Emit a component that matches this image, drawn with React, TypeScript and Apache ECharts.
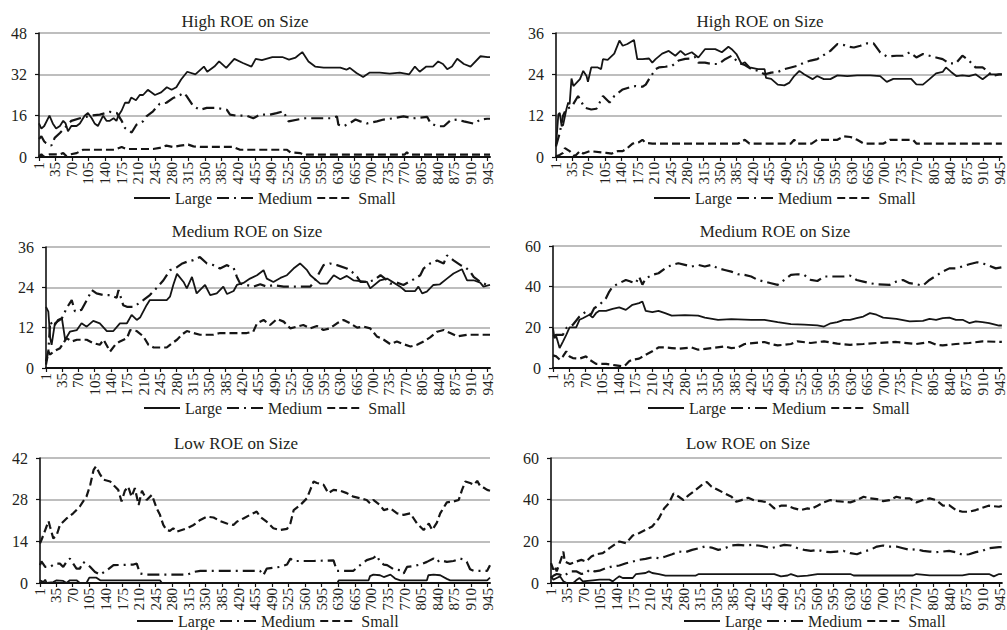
import React, { useEffect, useRef } from "react";
import * as echarts from "echarts";

type Pt = [number, number];

// ---------- tick labels / categories ----------
const xTickValues: number[] = [
  1, 35, 70, 105, 140, 175, 210, 245, 280, 315, 350, 385, 420, 455, 490, 525,
  560, 595, 630, 665, 700, 735, 770, 805, 840, 875, 910, 945,
];
const seriesNames: string[] = ["Large", "Medium", "Small"];
const panelTitles: string[] = [
  "High ROE on Size",
  "High ROE on Size",
  "Medium ROE on Size",
  "Medium ROE on Size",
  "Low ROE on Size",
  "Low ROE on Size",
];
const yMaxes: number[] = [48, 36, 36, 60, 42, 60];
const yIntervals: number[] = [16, 12, 12, 20, 14, 20];

// ---------- panel 1: High ROE (left) ----------
const highLeftLarge: Pt[] = [
  [1, 13], [6, 11], [12, 12], [23, 16], [30, 13], [37, 11], [45, 12], [52, 14], [57, 13], [62, 10],
  [69, 12], [80, 12], [87, 13], [97, 16], [104, 17], [112, 15], [118, 13], [125, 12], [136, 16],
  [143, 14], [150, 14], [158, 15], [164, 14], [168, 16], [175, 18], [182, 21], [190, 21], [195, 23],
  [205, 22], [213, 24], [220, 24], [230, 26], [245, 24], [258, 25], [270, 27], [280, 26], [290, 27],
  [300, 30], [313, 33], [330, 32], [348, 35], [355, 33], [370, 35], [380, 37], [395, 34.5], [412, 38],
  [430, 36.4], [448, 35], [457, 38], [470, 37.5], [492, 38.7], [513, 38.7], [527, 37.7], [541, 38.5],
  [555, 40.6], [568, 37], [582, 35], [600, 34.6], [635, 34.6], [648, 33.8], [655, 34.5], [669, 32.5],
  [683, 31], [697, 32.7], [718, 32.7], [739, 32.3], [760, 32.7], [780, 32], [792, 35], [802, 33],
  [816, 35], [830, 35], [841, 37], [851, 36], [860, 34], [870, 35], [881, 38], [895, 36], [909, 35],
  [930, 39], [945, 38.7], [950, 38.7],
];
const highLeftMedium: Pt[] = [
  [1, 7], [6, 8], [12, 6], [16, 5.4], [27, 4.4], [34, 7.4], [45, 9.3], [55, 11.2], [69, 14], [87, 15],
  [110, 16], [129, 16.4], [150, 17.5], [165, 17], [175, 14], [182, 11.2], [196, 9.5], [206, 12.5],
  [220, 13.8], [227, 15.7], [241, 17.7], [255, 20.6], [269, 21], [283, 22.8], [298, 24], [305, 24.8],
  [312, 23.5], [326, 19.6], [340, 18.3], [354, 19], [375, 19], [396, 18.3], [403, 16.4], [417, 16],
  [438, 16], [452, 15], [466, 16.4], [487, 16.4], [501, 17], [515, 17.7], [526, 13.8], [551, 14.7],
  [561, 15], [593, 15], [614, 15], [628, 15.7], [631, 12.5], [642, 11.9], [656, 13.2], [667, 14.5],
  [677, 13.8], [691, 13], [712, 13.8], [726, 14.5], [747, 15], [768, 15.7], [789, 15], [818, 15.5],
  [825, 13], [839, 11.9], [853, 11.9], [867, 14.2], [881, 14.5], [895, 13.8], [916, 12.9], [930, 14.5],
  [944, 14.8], [950, 14.8],
];
const highLeftSmall: Pt[] = [
  [1, 0.3], [6, 1], [12, 0], [23, 1], [45, 1], [52, 1.5], [59, 0.3], [66, 1], [80, 1.5], [94, 2.8],
  [160, 2.8], [175, 3.9], [185, 3.1], [241, 3.1], [255, 3.5], [269, 4.4], [283, 3.9], [298, 4.4],
  [315, 4.8], [326, 4.1], [340, 3.9], [410, 3.9], [424, 2.8], [523, 2.8], [530, 1.8], [551, 1.5],
  [558, 0.8], [565, 0.9], [770, 0.9], [775, 1.8], [780, 0.9], [950, 0.9],
];

// ---------- panel 2: High ROE (right) ----------
const highRightLarge: Pt[] = [
  [1, 3.1], [6, 12.4], [9, 12.8], [13, 9], [16, 9.2], [23, 13.8], [27, 15.8], [30, 15.3], [34, 22.8],
  [38, 20.6], [52, 22.6], [59, 25], [66, 23.5], [69, 21.8], [76, 26], [90, 26], [97, 25.5], [101, 28.4],
  [111, 28.2], [125, 30], [136, 33.8], [143, 32.3], [153, 32.8], [167, 34], [174, 28.4], [185, 28.4],
  [199, 28.6], [206, 27.4], [213, 28.4], [227, 30], [241, 30.8], [255, 29.4], [266, 30.8], [276, 29.6],
  [290, 30.4], [304, 28.9], [318, 31.3], [340, 31.3], [354, 30.4], [368, 32], [375, 31.3], [385, 29.9],
  [396, 27], [403, 27.5], [413, 26], [431, 25.5], [445, 25.5], [448, 23], [459, 22.7], [473, 21],
  [487, 20.8], [498, 21.6], [508, 23.5], [519, 25], [529, 24], [547, 22.6], [557, 23.5], [571, 22.6],
  [585, 22.6], [600, 23.7], [621, 23.5], [642, 23.7], [670, 23.7], [691, 23.5], [705, 21.8], [719, 22.7],
  [757, 22.7], [768, 21.1], [782, 21], [796, 22.6], [810, 24.3], [824, 24.7], [831, 26], [842, 24.7],
  [853, 23.5], [866, 23.7], [880, 23.5], [894, 24], [909, 22.6], [923, 24], [950, 24],
];
const highRightMedium: Pt[] = [
  [1, 3.1], [9, 7], [16, 12], [23, 14], [34, 14.5], [48, 17.7], [55, 16], [62, 14.3], [76, 13.8],
  [87, 14], [94, 15.8], [101, 17.7], [115, 15.8], [125, 17.7], [143, 19.6], [157, 20.2], [171, 20.6],
  [185, 20.4], [192, 21], [199, 22.6], [213, 25.5], [220, 26], [234, 26.2], [248, 26.5], [262, 28],
  [276, 28.5], [290, 28.6], [297, 29], [304, 27.4], [318, 27.4], [333, 27], [347, 27], [361, 28.4],
  [375, 29.4], [389, 27.4], [403, 26.7], [417, 25.5], [431, 25], [445, 24], [459, 24.5], [473, 24.7],
  [487, 25.5], [501, 26], [515, 26.5], [529, 27.4], [543, 28], [557, 28.4], [571, 29.6], [585, 30.8],
  [600, 32.8], [614, 32.5], [621, 32.1], [635, 31.8], [649, 32.3], [663, 33], [677, 33], [691, 30.4],
  [705, 29.2], [726, 29.4], [740, 29.4], [754, 30.4], [768, 28.9], [782, 29.9], [796, 29.4], [810, 28.9],
  [824, 28.4], [838, 27.2], [852, 27.2], [866, 29.4], [880, 28], [894, 26], [909, 26], [919, 25],
  [930, 23.5], [944, 24], [950, 24],
];
const highRightSmall: Pt[] = [
  [1, 0.2], [9, 0.6], [16, 1.2], [20, 2.6], [30, 1.7], [41, 0.2], [52, 1.7], [59, 1], [73, 1.7],
  [108, 1.2], [120, 1], [132, 1.7], [143, 1.7], [153, 2.6], [164, 3.9], [178, 4.3], [185, 5], [192, 4.1],
  [206, 3.9], [389, 3.9], [403, 5], [413, 3.9], [501, 3.9], [508, 5], [515, 3.9], [545, 3.9], [557, 5],
  [600, 5], [614, 6], [628, 5.8], [642, 5], [656, 3.9], [698, 3.9], [712, 5], [761, 5], [768, 3.9],
  [950, 3.9],
];

// ---------- panel 3: Medium ROE (left) ----------
const medLeftLarge: Pt[] = [
  [1, 18.2], [6, 16.8], [10, 8.9], [13, 6.9], [20, 13.3], [31, 14.3], [35, 14.8], [42, 8.4], [52, 10.8],
  [67, 11.3], [77, 13.3], [88, 12.3], [102, 14], [116, 13.3], [131, 11], [145, 11], [159, 13.3],
  [174, 13.3], [184, 15.8], [195, 14.3], [202, 15], [216, 18.7], [223, 20.2], [259, 20.2], [266, 21.2],
  [273, 24.7], [281, 28], [295, 25.6], [302, 23.7], [313, 27.1], [323, 22.2], [341, 24.7], [352, 21.7],
  [366, 22.2], [380, 24.2], [388, 22], [402, 22.9], [409, 24.7], [423, 25.3], [437, 26.6], [452, 27.6],
  [466, 29.1], [473, 26.6], [487, 25.6], [502, 26.8], [516, 27.6], [530, 29.6], [544, 31.1], [559, 29.1],
  [566, 27.6], [587, 25.1], [602, 25.1], [616, 27.6], [630, 26.4], [644, 27.4], [658, 26.1], [687, 25.6],
  [694, 23.7], [715, 26.1], [730, 26.6], [744, 25.4], [758, 24.2], [769, 22.9], [790, 22.9], [797, 24.2],
  [805, 22.2], [815, 22.7], [829, 24.7], [843, 24.9], [858, 26.6], [872, 28.1], [890, 29.4], [901, 26.1],
  [915, 26.1], [929, 25.4], [936, 24.2], [950, 24.7],
];
const medLeftMedium: Pt[] = [
  [1, 2], [6, 5], [10, 13.8], [17, 12.3], [27, 14.3], [35, 14.8], [45, 17.8], [56, 20.2], [63, 16.8],
  [77, 17.3], [92, 21.2], [99, 23.2], [109, 22.2], [124, 21.7], [138, 21.7], [152, 20.9], [156, 23.2],
  [166, 18.7], [174, 18.2], [188, 18.2], [199, 19.2], [209, 20.2], [223, 21.7], [238, 23.9], [252, 26.1],
  [266, 29.1], [281, 30], [291, 31], [302, 31.6], [316, 32.1], [330, 33], [345, 31.1], [359, 30.6],
  [373, 29.6], [387, 30.6], [402, 29.8], [409, 27.1], [416, 25.1], [430, 24.7], [444, 24.2], [459, 24.9],
  [473, 24.2], [487, 24.7], [509, 24.2], [537, 24.2], [566, 24.2], [580, 27], [594, 30.6], [608, 31.1],
  [623, 30.6], [644, 29.6], [655, 28.6], [666, 27.1], [673, 25.6], [687, 25.6], [701, 26.1], [716, 27.6],
  [730, 26.1], [737, 25.1], [751, 25.4], [765, 24.7], [787, 26.4], [801, 27.6], [808, 29.6], [822, 31.1],
  [837, 32], [851, 31.1], [858, 33.5], [872, 32], [887, 30.6], [897, 30], [908, 28.6], [915, 27.1],
  [929, 25.6], [944, 24.7], [950, 24.2],
];
const medLeftSmall: Pt[] = [
  [1, 1], [6, 4.9], [10, 4], [17, 4.9], [31, 5.9], [45, 8.9], [56, 7.9], [67, 8.4], [88, 8.4], [102, 7.4],
  [116, 6.9], [124, 8.4], [138, 4.9], [149, 6.9], [159, 7.9], [174, 8.9], [181, 11.3], [195, 11],
  [209, 9.4], [220, 6.9], [231, 6.1], [259, 6.1], [266, 6.9], [281, 8.4], [291, 9.9], [302, 11],
  [316, 10.4], [330, 9.9], [359, 9.9], [373, 10.4], [430, 10.4], [444, 10.8], [452, 13.3], [466, 14.3],
  [480, 12.8], [495, 14.6], [509, 13.8], [523, 11.8], [537, 12.3], [551, 12.8], [566, 11.8], [580, 12.5],
  [594, 11.3], [608, 11.8], [623, 13.3], [637, 14.3], [651, 13.3], [666, 12], [680, 12.3], [694, 11.8],
  [708, 9.4], [723, 8.4], [737, 7.1], [751, 7.9], [765, 7.1], [780, 6.4], [794, 6.9], [808, 7.9],
  [822, 9.1], [837, 10.8], [851, 11.3], [865, 10.4], [880, 9.4], [901, 9.9], [950, 9.9],
];

// ---------- panel 4: Medium ROE (right) ----------
const medRightLarge: Pt[] = [
  [1, 19.6], [4, 14.7], [8, 15.5], [15, 9.8], [22, 13], [29, 16.3], [36, 20], [50, 20], [57, 23.7],
  [64, 24.5], [78, 26.2], [85, 24.8], [92, 27], [99, 28.1], [113, 28.1], [127, 29.1], [141, 29.8],
  [155, 28.6], [169, 31.1], [183, 31.9], [190, 32.7], [197, 28.1], [211, 27.5], [224, 28.1], [238, 27],
  [252, 25.8], [280, 26], [308, 25.8], [322, 24.8], [350, 23.7], [378, 24], [420, 23.7], [448, 23.7],
  [476, 22.6], [504, 21.6], [532, 21.3], [560, 21], [574, 20.4], [588, 22], [602, 22.6], [616, 23.7],
  [629, 23.7], [643, 24.5], [657, 25.3], [671, 27], [685, 26.2], [699, 24.8], [727, 24.2], [755, 22.9],
  [783, 23.2], [797, 24.2], [811, 23.7], [825, 24.5], [839, 24.8], [853, 23.7], [867, 23.7], [881, 22.1],
  [895, 22.9], [909, 22.6], [923, 22.1], [944, 20.9], [950, 20.9],
];
const medRightMedium: Pt[] = [
  [1, 15.5], [8, 16.3], [22, 16.3], [29, 19.6], [43, 21.3], [57, 25.3], [71, 27.8], [81, 26.2], [88, 29.4],
  [99, 31], [113, 34.3], [120, 37.6], [127, 40], [141, 41.7], [155, 43.3], [165, 42.5], [176, 41.7],
  [183, 45], [190, 41], [197, 44], [211, 45.8], [224, 46.6], [238, 49], [252, 50.7], [266, 51.5],
  [280, 50.7], [294, 49.9], [308, 50.7], [322, 49.9], [336, 50.7], [350, 49], [364, 48.2], [378, 47.4],
  [392, 46.1], [406, 45.8], [420, 45], [434, 43.3], [448, 42.5], [462, 41.7], [476, 40.9], [490, 43.3],
  [504, 45.8], [518, 46.1], [532, 45.8], [546, 43.3], [560, 42.8], [574, 45], [616, 45], [629, 45.4],
  [643, 43.3], [657, 42.5], [671, 41.7], [685, 41.2], [713, 40.9], [727, 42.5], [741, 43.3], [755, 41.7],
  [769, 41.2], [783, 40.5], [797, 43.3], [811, 45.4], [825, 47.4], [839, 49], [853, 49], [881, 51],
  [898, 52], [916, 51], [937, 49], [950, 49.5],
];
const medRightSmall: Pt[] = [
  [1, 6.2], [8, 5.7], [15, 4.1], [22, 5.7], [29, 8.2], [36, 5.7], [43, 4.9], [57, 4.6], [71, 5.7],
  [78, 4.1], [92, 2], [113, 2], [134, 1.3], [148, 0.8], [155, 1.6], [162, 3.3], [169, 4.1], [183, 4.6],
  [197, 6.5], [211, 8.2], [224, 10.1], [238, 10.1], [252, 9.8], [266, 9.5], [294, 10.1], [308, 9],
  [336, 9.8], [364, 10.6], [378, 9.8], [392, 10.1], [406, 11.8], [448, 12.8], [462, 11.8], [476, 11.1],
  [504, 11.8], [518, 13.1], [546, 12.3], [574, 13.1], [602, 12], [629, 11.4], [657, 11.8], [685, 12.3],
  [727, 12.8], [769, 11.8], [797, 12.8], [811, 11.4], [825, 11.1], [853, 11.8], [881, 12.3], [909, 13.1],
  [950, 12.8],
];

// ---------- panel 5: Low ROE (left) ----------
const lowLeftLarge: Pt[] = [
  [1, 0.9], [8, 0.3], [12, 1.1], [15, 0], [29, 0.3], [36, 0.9], [50, 0.7], [57, 0], [64, 0.9], [78, 0.9],
  [85, 0], [99, 0], [105, 1.8], [120, 1.8], [128, 0.9], [254, 0.9], [258, 0], [628, 0], [631, 0.9],
  [694, 0.9], [697, 2.3], [704, 2.8], [718, 2.6], [726, 2], [740, 2.8], [750, 1.5], [761, 0.9],
  [817, 0.9], [820, 2.6], [831, 2.8], [845, 2.6], [859, 1.4], [866, 0.9], [944, 0.9], [950, 1.8],
];
const lowLeftMedium: Pt[] = [
  [1, 6], [4, 7.3], [12, 5.4], [22, 5.4], [33, 6.5], [43, 6.5], [50, 5.4], [57, 7.1], [64, 8.2], [71, 6.5],
  [78, 4.8], [85, 4.8], [92, 7.1], [107, 5.4], [117, 3.7], [128, 2.8], [142, 4.3], [156, 6], [198, 6.2],
  [205, 6.5], [212, 3.2], [226, 2.8], [289, 2.8], [311, 2.8], [325, 3.7], [339, 4.1], [409, 4.1],
  [465, 4.1], [472, 2.6], [479, 4.8], [493, 5.1], [507, 5.4], [522, 6.2], [529, 8.2], [536, 7.4],
  [578, 7.4], [620, 7.6], [627, 4.1], [662, 4.1], [669, 5.1], [680, 6.5], [690, 7.7], [704, 8.4],
  [711, 9.3], [718, 7.1], [726, 6.2], [733, 6], [747, 4.6], [761, 4.3], [768, 3.2], [775, 5.4], [789, 5.7],
  [803, 6.2], [817, 7.1], [831, 8.2], [838, 7.1], [845, 7.7], [859, 7.1], [873, 7.4], [887, 8.2],
  [894, 7.9], [901, 7.1], [908, 4.6], [916, 4.1], [944, 4.1], [950, 6],
];
const lowLeftSmall: Pt[] = [
  [1, 13.3], [4, 14.4], [12, 17.8], [19, 20.8], [22, 19], [29, 15], [36, 16], [43, 19.5], [57, 21.7],
  [71, 23.4], [85, 25.7], [92, 27.4], [99, 29], [107, 33], [114, 38], [119, 39.2], [128, 36.4],
  [135, 34.7], [149, 34.1], [159, 32.4], [166, 31.3], [173, 27.4], [180, 31], [187, 32.4], [194, 29],
  [201, 31.9], [209, 26.2], [216, 31], [226, 27.9], [237, 29.6], [247, 25.1], [254, 22.9], [261, 19.5],
  [268, 17.8], [275, 17.5], [282, 18.4], [289, 17.2], [300, 17.8], [311, 18.4], [325, 19.5], [339, 21.2],
  [353, 22.3], [367, 22], [381, 20.8], [395, 20], [409, 19.5], [416, 20.6], [430, 21.7], [444, 22.9],
  [458, 24], [465, 22.3], [479, 20.6], [493, 18.4], [507, 17.8], [522, 18.2], [529, 20], [536, 24.5],
  [550, 26.2], [564, 28.5], [571, 31.3], [578, 34.1], [585, 33.6], [599, 33], [609, 30.2], [620, 31.3],
  [634, 31], [648, 30.2], [662, 29], [676, 28.5], [690, 27.9], [697, 26.8], [704, 27.9], [718, 26.2],
  [726, 24.5], [740, 25.1], [754, 23.4], [768, 22.9], [782, 23.4], [796, 20], [810, 17.8], [821, 20],
  [828, 17.8], [838, 20.3], [845, 23.4], [859, 27.1], [873, 27.4], [884, 27.9], [891, 31.3], [898, 34.1],
  [908, 33.6], [916, 33], [923, 34.3], [930, 32.4], [937, 32], [944, 31.3], [950, 31],
];

// ---------- panel 6: Low ROE (right) ----------
const lowRightLarge: Pt[] = [
  [1, 3.2], [6, 1.6], [13, 2.4], [20, 3.2], [27, 0.8], [34, 0], [48, 0], [54, 1.3], [61, 2.4], [68, 0.8],
  [89, 1.3], [103, 1.6], [124, 1.6], [131, 0.8], [138, 2.1], [145, 3.2], [152, 2.4], [173, 2.4],
  [180, 4.3], [200, 4.8], [207, 5.6], [214, 4.8], [228, 4.3], [242, 3.5], [305, 3.5], [312, 4.3],
  [471, 4.3], [485, 3.2], [499, 3.6], [506, 4.3], [520, 3.2], [541, 3.5], [562, 4.3], [631, 4.3],
  [638, 3.6], [763, 3.6], [770, 4.3], [798, 3.7], [867, 3.7], [881, 4.3], [923, 4.3], [933, 3.2],
  [944, 4.3], [950, 4.3],
];
const lowRightMedium: Pt[] = [
  [1, 2.4], [6, 3.5], [13, 4.3], [20, 4], [27, 3.2], [34, 4.3], [44, 5.6], [54, 5.6], [65, 4.3], [75, 4.8],
  [82, 6.4], [93, 5.6], [103, 5.9], [117, 7.2], [131, 8], [145, 8.4], [159, 9.5], [173, 10.3], [186, 11.1],
  [200, 11.6], [214, 12.3], [228, 11.9], [242, 12.7], [256, 13.8], [270, 15.1], [284, 14.8], [298, 15.9],
  [312, 16.7], [325, 17.5], [339, 17], [353, 15.9], [367, 16.7], [381, 18], [395, 18.3], [409, 18],
  [423, 18.3], [437, 18], [450, 17.5], [464, 16.7], [478, 17.5], [492, 18.3], [506, 18], [520, 16.7],
  [534, 15.9], [548, 15.4], [562, 15.9], [575, 15.1], [589, 14.8], [603, 15.1], [617, 15.4], [631, 14.3],
  [645, 13.8], [659, 15.1], [673, 15.9], [687, 17.5], [700, 18], [714, 17.5], [728, 17.5], [742, 16.7],
  [756, 15.9], [770, 16.2], [784, 15.4], [798, 15.1], [812, 14.8], [826, 15.1], [839, 15.4], [853, 14.8],
  [867, 13.5], [881, 13.8], [895, 14.8], [909, 15.4], [922, 16.7], [944, 17.2], [950, 17.2],
];
const lowRightSmall: Pt[] = [
  [1, 9.5], [6, 6.4], [9, 8], [13, 5.6], [23, 11.9], [27, 15.1], [30, 10.3], [41, 9.1], [54, 10.3],
  [65, 11.1], [75, 10.3], [86, 12.7], [96, 13.8], [110, 14.3], [124, 16.7], [134, 18.3], [145, 19.9],
  [159, 19.1], [173, 22.8], [186, 23.9], [200, 25.5], [214, 27.1], [228, 31], [239, 35.8], [249, 38.2],
  [259, 43], [270, 41.4], [280, 39.8], [291, 42.2], [305, 44.6], [318, 47], [329, 48.5], [339, 46.2],
  [353, 44.6], [367, 43], [381, 41.4], [391, 39], [402, 39.8], [416, 40.9], [430, 39.5], [443, 39.3],
  [457, 38.7], [471, 35.8], [485, 37.1], [499, 37.1], [513, 35.8], [527, 35], [541, 35.8], [548, 35.5],
  [562, 37.1], [575, 38.7], [589, 39.8], [603, 39.3], [617, 39], [631, 38.7], [645, 39.8], [659, 41.4],
  [673, 40.6], [687, 40.3], [700, 39.3], [714, 39.8], [728, 41.4], [742, 40.6], [756, 40.6], [770, 38.7],
  [784, 39.8], [798, 40.6], [812, 39.8], [826, 37.1], [839, 37.4], [853, 35], [867, 34.2], [881, 34.2],
  [895, 35], [909, 36.1], [922, 37.1], [944, 36.6], [950, 37],
];

const panelData: Pt[][][] = [
  [highLeftLarge, highLeftMedium, highLeftSmall],
  [highRightLarge, highRightMedium, highRightSmall],
  [medLeftLarge, medLeftMedium, medLeftSmall],
  [medRightLarge, medRightMedium, medRightSmall],
  [lowLeftLarge, lowLeftMedium, lowLeftSmall],
  [lowRightLarge, lowRightMedium, lowRightSmall],
];

// ---------- layout / style ----------
const FONT = '"Liberation Serif", "Times New Roman", serif';
const INK = "#231f20";
const gridBoxes = [
  { left: 39, top: 33, width: 451, height: 124 },
  { left: 556, top: 33, width: 450, height: 124 },
  { left: 46, top: 247, width: 444, height: 121 },
  { left: 553, top: 246, width: 453, height: 122 },
  { left: 40, top: 458, width: 450, height: 125 },
  { left: 551, top: 458, width: 455, height: 125 },
];
const titlePos = [
  [245, 21], [760, 21], [247, 231], [775, 231], [236, 443], [748, 443],
];
const legendPos = [
  [133, 190], [653, 190], [143, 400], [647, 400], [136, 613], [683, 613],
];
const lineTypes: any[] = ["solid", [12, 5, 2, 5], [8, 4]];

function buildOption(): echarts.EChartsOption {
  const grid = gridBoxes.map((g) => ({ ...g, containLabel: false }));
  const xAxis = gridBoxes.map((_, i) => ({
    type: "value" as const,
    gridIndex: i,
    min: 1,
    max: 950,
    axisLine: { show: true, onZero: true, lineStyle: { color: "#111", width: 2 } },
    axisTick: { show: true, customValues: xTickValues, length: 4, lineStyle: { color: "#111", width: 1.2 } },
    axisLabel: {
      customValues: xTickValues,
      rotate: 90,
      fontSize: 15,
      fontFamily: FONT,
      color: INK,
      margin: 5,
    },
    splitLine: { show: false },
  }));
  const yAxis = gridBoxes.map((_, i) => ({
    type: "value" as const,
    gridIndex: i,
    min: 0,
    max: yMaxes[i],
    interval: yIntervals[i],
    axisLine: { show: true, lineStyle: { color: "#111", width: 1.6 } },
    axisTick: { show: true, length: 4, lineStyle: { color: "#111", width: 1.2 } },
    axisLabel: { fontSize: 16, fontFamily: FONT, color: INK, margin: 12 },
    splitLine: { show: true, lineStyle: { color: "#a8a8a8", width: 1.6 } },
  }));
  const series: any[] = [];
  panelData.forEach((trio, i) => {
    trio.forEach((data, k) => {
      series.push({
        type: "line",
        name: seriesNames[k],
        xAxisIndex: i,
        yAxisIndex: i,
        data,
        symbol: "none",
        showSymbol: false,
        silent: true,
        lineStyle: { color: "#151515", width: k === 0 ? 1.8 : 2.2, type: lineTypes[k] },
        itemStyle: { color: "#151515" },
      });
    });
  });
  const legend = legendPos.map(([l, t]) => ({
    left: l,
    top: t,
    padding: 0,
    itemWidth: 36,
    itemHeight: 14,
    itemGap: 4,
    selectedMode: false,
    data: seriesNames,
    itemStyle: { opacity: 0 },
    textStyle: { fontSize: 16, fontFamily: FONT, color: INK, padding: [0, 0, 0, 0] },
  }));
  const graphic = panelTitles.map((t, i) => ({
    type: "text" as const,
    x: titlePos[i][0],
    y: titlePos[i][1],
    style: {
      text: t,
      fontSize: 17,
      fontFamily: FONT,
      fill: INK,
      align: "center",
      verticalAlign: "middle",
    },
  }));
  return {
    animation: false,
    backgroundColor: "#ffffff",
    grid,
    xAxis,
    yAxis,
    legend,
    graphic,
    series,
  } as any;
}

export default function App() {
  const ref = useRef<HTMLDivElement | null>(null);
  useEffect(() => {
    if (!ref.current) return;
    const chart = echarts.init(ref.current, undefined, { renderer: "svg" });
    chart.setOption(buildOption());
    return () => chart.dispose();
  }, []);
  return (
    <div
      ref={ref}
      style={{ position: "absolute", left: 0, top: 0, width: 1007, height: 630, background: "#fff" }}
    />
  );
}
